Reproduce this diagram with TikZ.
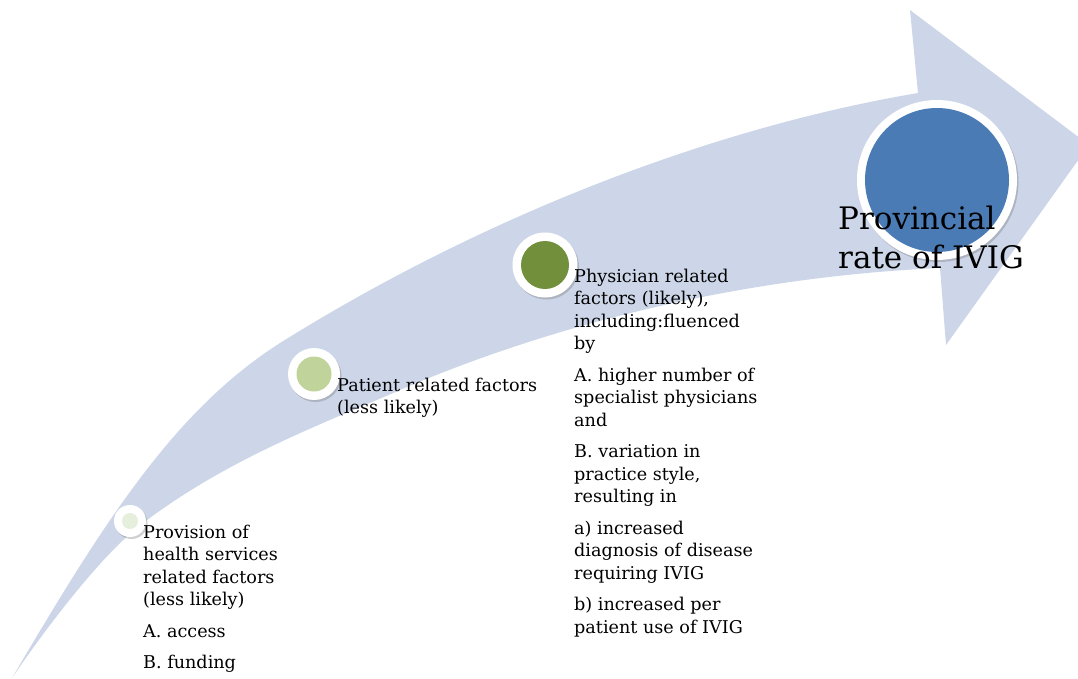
\documentclass[tikz,border=0pt]{standalone}
\usepackage{fontspec}
\setmainfont{DejaVu Serif}
\usetikzlibrary{shadows}
\definecolor{bandblue}{HTML}{CDD6E8}
\definecolor{cpale}{HTML}{E6EEDC}
\definecolor{clight}{HTML}{BFD39A}
\definecolor{colive}{HTML}{728F3B}
\definecolor{cblue}{HTML}{4A7BB5}
\tikzset{
  ring/.style={circle, fill=white, inner sep=0pt, draw=none,
    drop shadow={shadow xshift=1.5pt, shadow yshift=-2pt, opacity=0.3, fill=black!60}},
  core/.style={circle, inner sep=0pt, draw=none},
  label/.style={anchor=north west, inner sep=0pt, align=left,
    font=\fontsize{17.6}{22.6}\selectfont, text=black},
  biglabel/.style={anchor=north west, inner sep=0pt, align=left,
    font=\fontsize{31}{39}\selectfont, text=black}
}
\begin{document}
\begin{tikzpicture}[x=1pt,y=-1pt]
\useasboundingbox (0,0) rectangle (1078,678);
\begin{scope}
\clip (0,0) rectangle (1078,678);
\fill[bandblue] (12,678)
  .. controls (105,520) and (175,410) .. (280,343)
  .. controls (480,218) and (710,128) .. (918,93)
  -- (910,10) -- (1089,145) -- (946,345) -- (940,268)
  .. controls (760,276) and (570,317) .. (400,390)
  .. controls (315,427) and (228,459) .. (143,523)
  .. controls (98,557) and (37,641) .. (12,678)
  -- cycle;
\end{scope}
% circles
\node[ring, minimum size=32] (r1) at (130,521) {};
\node[core, fill=cpale, minimum size=16] (c1) at (r1) {};
\node[ring, minimum size=52] (r2) at (314,374) {};
\node[core, fill=clight, minimum size=35] (c2) at (r2) {};
\node[ring, minimum size=65] (r3) at (545,265) {};
\node[core, fill=colive, minimum size=48] (c3) at (r3) {};
\node[ring, minimum size=160] (r4) at (937,180) {};
\node[core, fill=cblue, minimum size=144] (c4) at (r4) {};
% texts
\node[label] (t1) at (143,524.5) {Provision of\\health services\\related factors\\(less likely)\\[8.7pt]A. access\\[8.7pt]B. funding};
\node[label] (t2) at (337,377.5) {Patient related factors\\(less likely)};
\node[label] (t3) at (574,268.5) {Physician related\\factors (likely),\\including:fluenced\\by\\[8.7pt]A. higher number of\\specialist physicians\\and\\[8.7pt]B. variation in\\practice style,\\resulting in\\[8.7pt]a) increased\\diagnosis of disease\\requiring IVIG\\[8.7pt]b) increased per\\patient use of IVIG};
\node[biglabel] (t4) at (838,206) {Provincial\\rate of IVIG};
\end{tikzpicture}
\end{document}
